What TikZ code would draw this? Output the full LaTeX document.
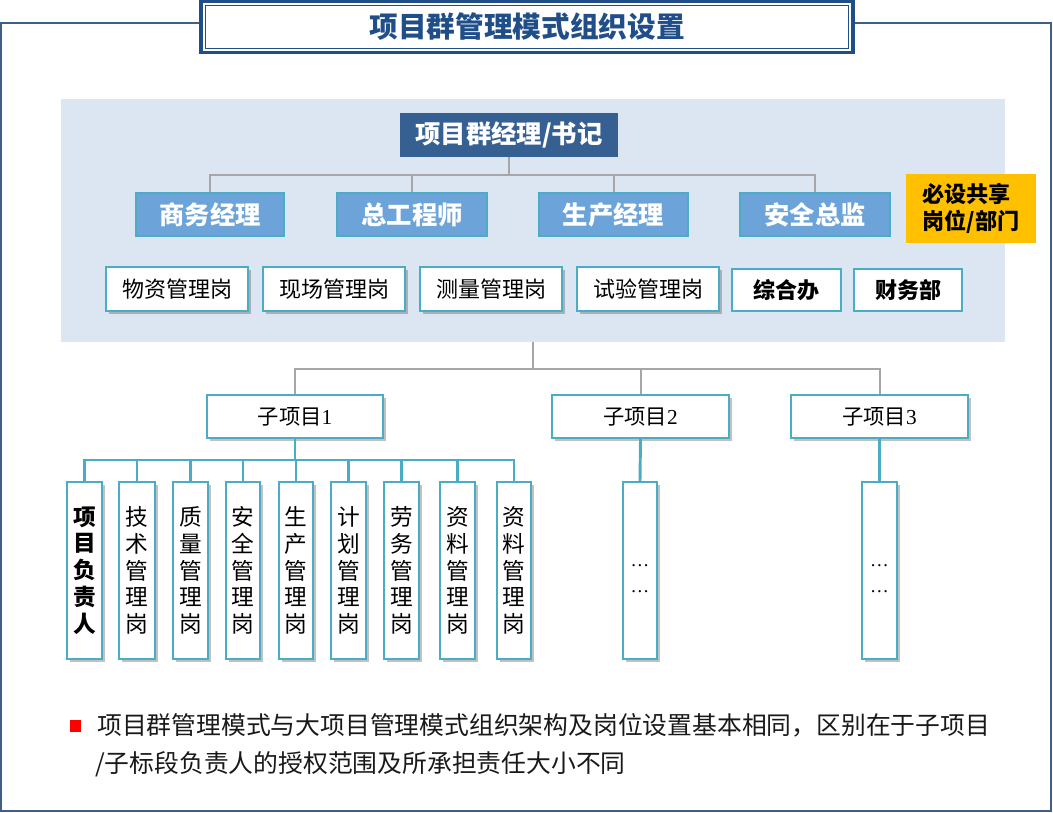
\documentclass[tikz,border=0pt]{standalone}
\usepackage{fontspec}
\setmainfont{Noto Sans CJK SC}
\newfontfamily\numfont{Liberation Serif}
\usetikzlibrary{shadows}
\definecolor{frameblue}{HTML}{3E5F8A}
\definecolor{titleblue}{HTML}{1F4E89}
\definecolor{panelbg}{HTML}{DCE6F2}
\definecolor{topblue}{HTML}{376092}
\definecolor{midblue}{HTML}{6CA3D8}
\definecolor{tealc}{HTML}{4BACC6}
\definecolor{linegray}{HTML}{A6A6A6}
\definecolor{goldc}{HTML}{FFC000}
\tikzset{
  box/.style={draw=tealc, line width=1.8pt, inner sep=0pt, fill=white},
  shad/.style={drop shadow={shadow xshift=2.5pt,shadow yshift=-2.5pt,opacity=0.35,fill=black!70}},
  mgr/.style={box, fill=midblue, text=white, font=\fontsize{19}{22}\selectfont\bfseries},
  post/.style={box, shad, font=\fontsize{16.5}{20}\selectfont},
  office/.style={box, font=\fontsize{16.5}{20}\selectfont\bfseries},
  vpost/.style={box, shad, align=center, font=\fontsize{17}{20.1}\selectfont},
  subp/.style={box, shad, font=\fontsize{16}{19}\selectfont},
  gline/.style={draw=linegray, line width=1.5pt},
  tline/.style={draw=tealc, line width=2.2pt},
  btext/.style={anchor=base west, inner sep=0pt, text=black!90, font=\fontsize{18.6}{22}\selectfont}
}
% #1 style, #2 name, (#3,#4) top-left px, (#5,#6) bottom-right px, #7 text
\newcommand\mkbox[7]{%
  \node[#1, minimum width={(#5-#3)*0.75pt}, minimum height={(#6-#4)*0.75pt}]
    (#2) at ({(#3+#5)/2},{(#4+#6)/2}) {#7};}
\begin{document}
\begin{tikzpicture}[x=0.75pt,y=-0.75pt]
\path[use as bounding box] (0,0) rectangle (1053,813);
% outer frame
\draw[frameblue, line width=1.5pt] (1,23) rectangle (1051,811);
% title
\mkbox{draw=titleblue, line width=2.4pt, fill=white, inner sep=0pt, text=titleblue,
      font=\fontsize{21.5}{24}\selectfont\bfseries}{title}{201}{1.5}{853}{52.5}{项目群管理模式组织设置}
\draw[titleblue, line width=1pt] (205.5,5.5) rectangle (848.5,48.5);
% panel
\mkbox{fill=panelbg, inner sep=0pt}{panel}{61}{99}{1005}{342}{}
% top
\mkbox{fill=topblue, inner sep=0pt, text=white, font=\fontsize{19}{22}\selectfont\bfseries}{top}{400}{113}{618}{157}{项目群经理/书记}
% managers
\mkbox{mgr}{m1}{136}{193}{284}{236}{商务经理}
\mkbox{mgr}{m2}{337}{193}{487}{236}{总工程师}
\mkbox{mgr}{m3}{539}{193}{688}{236}{生产经理}
\mkbox{mgr}{m4}{740}{193}{890}{236}{安全总监}
\mkbox{fill=goldc, inner sep=0pt, align=left, font=\fontsize{16.6}{20}\selectfont\bfseries}{shared}{906}{174}{1036}{243}{必设共享\\岗位/部门}
% posts
\mkbox{post}{p1}{106}{267}{248}{311}{物资管理岗}
\mkbox{post}{p2}{263}{267}{405}{311}{现场管理岗}
\mkbox{post}{p3}{420}{267}{562}{311}{测量管理岗}
\mkbox{post}{p4}{577}{267}{719}{311}{试验管理岗}
\mkbox{office}{o1}{732}{269}{841}{311}{综合办}
\mkbox{office}{o2}{854}{269}{962}{311}{财务部}
% connectors top
\coordinate (bus1) at (509,175);
\draw[gline] (top.south) -- (bus1);
\draw[gline] (m1.north) |- (bus1) -| (m4.north);
\draw[gline] (bus1) -| (m2.north);
\draw[gline] (bus1) -| (m3.north);
% sub projects
\mkbox{subp}{s1}{207}{395}{383}{438}{子项目{\numfont 1}}
\mkbox{subp}{s2}{552}{395}{729}{438}{子项目{\numfont 2}}
\mkbox{subp}{s3}{791}{395}{968}{438}{子项目{\numfont 3}}
\coordinate (bus2) at (533,369);
\draw[gline] (panel.south) -- (bus2);
\draw[gline] (s1.north) |- (bus2) -| (s3.north);
\draw[gline] (bus2) -| (s2.north);
% vertical posts
\mkbox{vpost, font=\fontsize{17}{20.1}\selectfont\bfseries}{v1}{67}{482}{102}{659}{项\\目\\负\\责\\人}
\mkbox{vpost}{v2}{119}{482}{155}{659}{技\\术\\管\\理\\岗}
\mkbox{vpost}{v3}{173}{482}{208}{659}{质\\量\\管\\理\\岗}
\mkbox{vpost}{v4}{226}{482}{260}{659}{安\\全\\管\\理\\岗}
\mkbox{vpost}{v5}{279}{482}{313}{659}{生\\产\\管\\理\\岗}
\mkbox{vpost}{v6}{331}{482}{366}{659}{计\\划\\管\\理\\岗}
\mkbox{vpost}{v7}{384}{482}{419}{659}{劳\\务\\管\\理\\岗}
\mkbox{vpost}{v8}{440}{482}{475}{659}{资\\料\\管\\理\\岗}
\mkbox{vpost}{v9}{497}{482}{531}{659}{资\\料\\管\\理\\岗}
\mkbox{vpost, font=\numfont\fontsize{14}{19.5}\selectfont}{d2}{623}{482}{657}{659}{\rule{0pt}{14pt}…\\…}
\mkbox{vpost, font=\numfont\fontsize{14}{19.5}\selectfont}{d3}{862}{482}{897}{659}{\rule{0pt}{14pt}…\\…}
\coordinate (bus3) at (295,460);
\draw[tline] (s1.south) -- (bus3);
\draw[tline] (v1.north) |- (bus3) -| (v9.north);
\foreach \v in {v2,v3,v4,v5,v6,v7,v8} \draw[tline] (bus3) -| (\v.north);
\draw[tline] (s2.south) -- (d2.north);
\draw[tline] (s3.south) -- (d3.north);
% bullet
\mkbox{fill=red, inner sep=0pt}{bul}{70}{720}{81}{732}{}
\node[btext] (t1) at (97,734.5) {项目群管理模式与大项目管理模式组织架构及岗位设置基本相同，区别在于子项目};
\node[btext] (t2) at (95,772.5) {/子标段负责人的授权范围及所承担责任大小不同};
\end{tikzpicture}
\end{document}
